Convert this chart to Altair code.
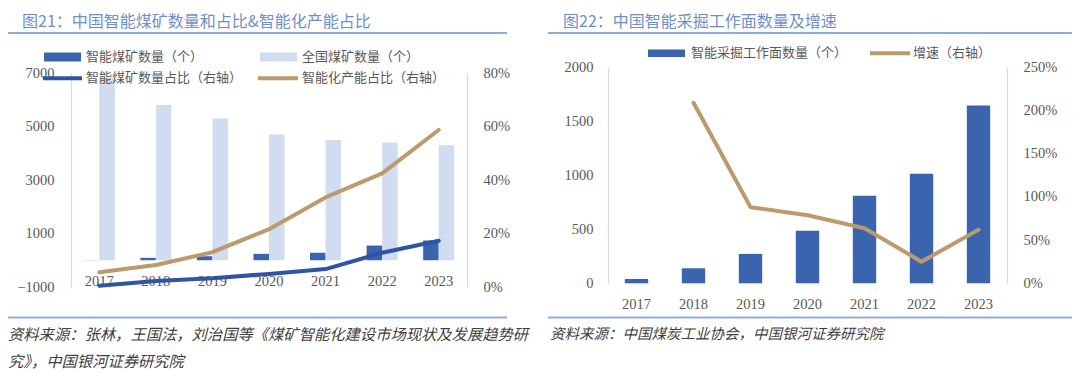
import altair as alt
import pandas as pd

# ---------------- data ----------------
years = ["2017", "2018", "2019", "2020", "2021", "2022", "2023"]

# Figure 21
smart_mines = [5, 90, 150, 240, 280, 550, 740]            # 智能煤矿数量（个）
all_mines = [6800, 5800, 5300, 4700, 4500, 4400, 4300]    # 全国煤矿数量（个）
smart_ratio = [0.005, 0.022, 0.033, 0.049, 0.067, 0.128, 0.173]   # 智能煤矿数量占比
capacity_ratio = [0.055, 0.082, 0.13, 0.216, 0.335, 0.425, 0.587]  # 智能化产能占比

# Figure 22
faces = [40, 139, 272, 485, 809, 1013, 1644]               # 智能采掘工作面数量（个）
growth = [None, 2.086, 0.88, 0.786, 0.637, 0.25, 0.618]    # 增速

s_smart = "智能煤矿数量（个）"
s_all = "全国煤矿数量（个）"
s_sratio = "智能煤矿数量占比（右轴）"
s_cratio = "智能化产能占比（右轴）"
s_faces = "智能采掘工作面数量（个）"
s_growth = "增速（右轴）"

title1 = "图21：中国智能煤矿数量和占比&智能化产能占比"
title2 = "图22：中国智能采掘工作面数量及增速"
src1a = "资料来源：张林，王国法，刘治国等《煤矿智能化建设市场现状及发展趋势研"
src1b = "究》，中国银河证券研究院"
src2 = "资料来源：中国煤炭工业协会，中国银河证券研究院"

# ---------------- style ----------------
W, H = 1064, 363
NUM = "Liberation Serif"
CJK = "Noto Sans CJK SC"
C_DARK = "#3A64AE"
C_DARKLINE = "#2F55A2"
C_LIGHT = "#D0DCEF"
C_GOLD = "#BC9A6B"
C_AXIS = "#D9D9D9"
C_LABEL = "#595959"
C_TITLE = "#6F8FC7"
C_RULE = "#8FAADC"
C_SRC = "#404040"


def ax(orient, offset, pad, **kw):
    return alt.Axis(orient=orient, offset=offset, title=None, grid=False, ticks=False,
                    domainColor=C_AXIS, domainWidth=1.2, labelPadding=pad,
                    labelFont=NUM, labelFontSize=14.5, labelColor=C_LABEL, **kw)


def year_labels(scale, y):
    return alt.Chart(pd.DataFrame({"year": years})).mark_text(
        font=NUM, fontSize=14.5, color=C_LABEL, baseline="middle", align="center").encode(
        x=alt.X("year:N", scale=scale, sort=years, axis=None),
        y=alt.value(y), text="year:N")


# ---------------- panel 1 ----------------
df1b = pd.DataFrame({"year": years * 2,
                     "series": [s_smart] * 7 + [s_all] * 7,
                     "value": smart_mines + all_mines})
df1l = pd.DataFrame({"year": years * 2,
                     "series": [s_sratio] * 7 + [s_cratio] * 7,
                     "value": smart_ratio + capacity_ratio})

x1 = alt.Scale(domain=years, range=[63, 459], paddingInner=0.45, paddingOuter=0.225)

bars1 = alt.Chart(df1b).mark_bar().encode(
    x=alt.X("year:N", scale=x1, sort=years,
            axis=ax("bottom", 252 - H, 0, labels=False)),
    xOffset=alt.XOffset("series:N", sort=[s_smart, s_all],
                        scale=alt.Scale(domain=[s_smart, s_all], paddingInner=0, paddingOuter=0)),
    y=alt.Y("value:Q", scale=alt.Scale(domain=[-1000, 7000], range=[279, 65], nice=False),
            axis=ax("left", -63, 17, values=[-1000, 1000, 3000, 5000, 7000], format="d")),
    y2=alt.datum(0),
    color=alt.Color("series:N", scale=alt.Scale(domain=[s_smart, s_all], range=[C_DARK, C_LIGHT]),
                    legend=None),
)

lines1 = alt.Chart(df1l).mark_line(strokeWidth=4, strokeCap="round", strokeJoin="round").encode(
    x=alt.X("year:N", scale=x1, sort=years, axis=None),
    y=alt.Y("value:Q", scale=alt.Scale(domain=[0, 0.8], range=[279, 65], nice=False),
            axis=ax("right", 459 - W, 16, values=[0, 0.2, 0.4, 0.6, 0.8], format=".0%")),
    color=alt.Color("series:N", scale=alt.Scale(domain=[s_sratio, s_cratio],
                                                range=[C_DARKLINE, C_GOLD]), legend=None),
)

panel1 = alt.layer(year_labels(x1, 274), bars1, lines1).resolve_scale(
    y="independent", color="independent")

# ---------------- panel 2 ----------------
df2b = pd.DataFrame({"year": years, "value": faces})
df2l = pd.DataFrame({"year": years, "value": growth})

x2 = alt.Scale(domain=years, range=[600, 999], paddingInner=0.59, paddingOuter=0.295)

bars2 = alt.Chart(df2b).mark_bar(color=C_DARK).encode(
    x=alt.X("year:N", scale=x2, sort=years,
            axis=ax("bottom", 275.3 - H, 0, labels=False)),
    y=alt.Y("value:Q", scale=alt.Scale(domain=[0, 2000], range=[275.3, 59], nice=False),
            axis=ax("left", -600, 15, values=[0, 500, 1000, 1500, 2000], format="d")),
)

lines2 = alt.Chart(df2l).mark_line(strokeWidth=4, color=C_GOLD, strokeCap="round",
                                   strokeJoin="round").encode(
    x=alt.X("year:N", scale=x2, sort=years, axis=None),
    y=alt.Y("value:Q", scale=alt.Scale(domain=[0, 2.5], range=[275.3, 59], nice=False),
            axis=ax("right", 999 - W, 16, values=[0, 0.5, 1, 1.5, 2, 2.5], format=".0%")),
)

panel2 = alt.layer(year_labels(x2, 297), bars2, lines2).resolve_scale(y="independent")

# ---------------- decorations ----------------
one = pd.DataFrame({"k": [0]})


def text(t, x, y, size, color, font=CJK, italic=False):
    return alt.Chart(pd.DataFrame({"t": [t]})).mark_text(
        align="left", baseline="middle", fontSize=size, color=color, font=font,
        fontStyle="italic" if italic else "normal").encode(
        text="t:N", x=alt.value(x), y=alt.value(y))


def hrule(x0, x1_, y, color, width):
    return alt.Chart(one).mark_rule(color=color, strokeWidth=width).encode(
        x=alt.value(x0), x2=alt.value(x1_), y=alt.value(y))


def lrule(x0, x1_, y, color):
    return alt.Chart(one).mark_rule(color=color, strokeWidth=4, strokeCap="butt").encode(
        x=alt.value(x0), x2=alt.value(x1_), y=alt.value(y))


def rect(x0, x1_, y0, y1, color):
    return alt.Chart(one).mark_rect(color=color).encode(
        x=alt.value(x0), x2=alt.value(x1_), y=alt.value(y0), y2=alt.value(y1))


deco = [
    text(title1, 14, 13.5, 16, C_TITLE),
    text(title2, 555, 13.5, 16, C_TITLE),
    hrule(0, 499, 25, C_RULE, 2),
    hrule(540, 1064, 25, C_RULE, 2),
    hrule(0, 499, 309.5, C_RULE, 2),
    hrule(540, 1064, 309.5, C_RULE, 2),
    text(src1a, 0, 327, 15.3, C_SRC, italic=True),
    text(src1b, 0, 354, 15.3, C_SRC, italic=True),
    text(src2, 542, 327, 14.5, C_SRC, italic=True),
    # legend panel 1
    rect(36, 73, 44.5, 53.5, C_DARK),
    text(s_smart, 78, 48.7, 13, C_LABEL),
    rect(252, 289, 44.5, 53.5, C_LIGHT),
    text(s_all, 294, 48.7, 13, C_LABEL),
    lrule(35, 74, 70.3, C_DARKLINE),
    text(s_sratio, 78, 70.3, 13, C_LABEL),
    lrule(250, 290, 70.3, C_GOLD),
    text(s_cratio, 294, 70.3, 13, C_LABEL),
    # legend panel 2
    rect(640, 677, 41.5, 49, C_DARK),
    text(s_faces, 683, 45.2, 13, C_LABEL),
    lrule(862, 902, 45.2, C_GOLD),
    text(s_growth, 905, 45.2, 13, C_LABEL),
]

chart = alt.layer(panel1, panel2, *deco).resolve_scale(
    x="independent", y="independent", color="independent"
).properties(
    width=W, height=H, padding=0, autosize=alt.AutoSizeParams(type="none")
).configure_view(stroke=None)

chart.save("out.html", embed_options={"renderer": "svg", "actions": False})
